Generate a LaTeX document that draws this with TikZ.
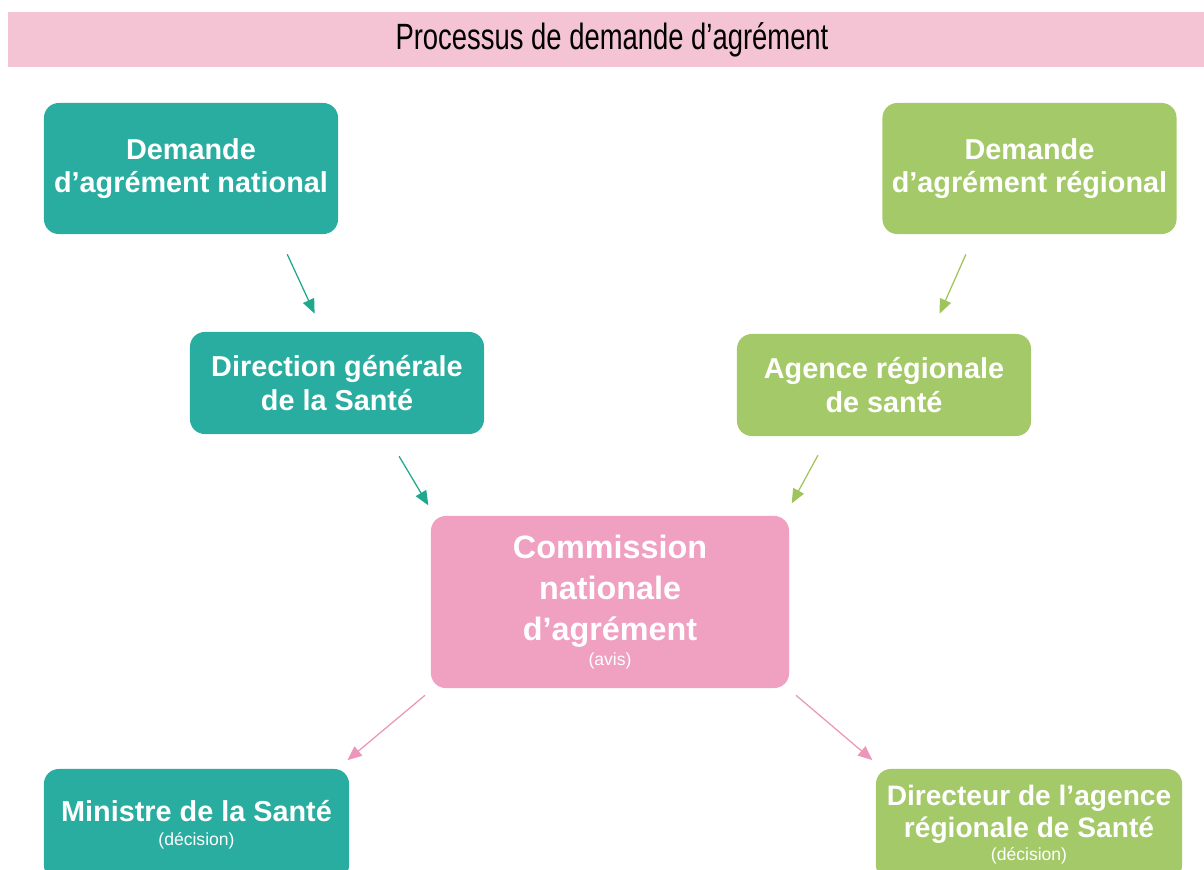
\documentclass[tikz,border=0pt]{standalone}
\usepackage{fontspec}
\setmainfont{Liberation Sans}
\newfontfamily\titlefont[FakeStretch=0.75]{Liberation Sans}
\definecolor{agr_teal}{RGB}{40, 173, 160}
\definecolor{agr_green}{RGB}{164, 201, 104}
\definecolor{agr_pink}{RGB}{240, 160, 193}
\definecolor{agr_band}{RGB}{245, 196, 212}
\definecolor{agr_tealarr}{RGB}{30, 168, 140}
\definecolor{agr_greenarr}{RGB}{160, 196, 92}
\definecolor{agr_pinkarr}{RGB}{236, 150, 186}
\newcommand{\sousligne}[1]{{\mdseries\fontsize{12.5}{14}\selectfont #1}}
\usepackage{tikz}
\usetikzlibrary{arrows.meta, positioning, calc}

\begin{document}
\begin{tikzpicture}[x=0.025cm, y=-0.025cm,
            blk/.style={rounded corners=0.37cm, align=center, text=white,
                        font=\bfseries\fontsize{20.5}{24}\selectfont,
                        minimum width=7.35cm, inner sep=0pt},
            arr/.style={-{Triangle[length=0.36cm, width=0.3cm]}, line width=0.9pt}]
            \useasboundingbox (0,0) rectangle (1204,869);
            % bandeau du titre
            \fill[agr_band] (8,12) rectangle (1204,67);
            \node (titre) at (612,40)
              {\titlefont\fontsize{26}{30}\selectfont Processus de demande d’agrément};
            % filiere nationale
            \node[blk, fill=agr_teal, minimum height=3.275cm] (dnat)
              at (191,168.5) {Demande\\d’agrément national};
            \node[blk, fill=agr_teal, minimum height=2.55cm] (dgs)
              at (337,383) {Direction générale\\de la Santé};
            % filiere regionale
            \node[blk, fill=agr_green, minimum height=3.275cm] (dreg)
              at (1029.5,168.5) {Demande\\d’agrément régional};
            \node[blk, fill=agr_green, minimum height=2.55cm] (ars)
              at (884,385) {Agence régionale\\de santé};
            % commission
            \node[blk, fill=agr_pink, minimum width=8.95cm, minimum height=4.3cm,
                  font=\bfseries\fontsize{23}{29}\selectfont] (cna)
              at (610,602) {Commission\\nationale\\d’agrément\\[-11pt]\sousligne{(avis)}};
            % decisions
            \node[blk, fill=agr_teal, minimum width=7.625cm, minimum height=2.775cm] (min)
              at (196.5,824.5) {Ministre de la Santé\\[-7pt]\sousligne{(décision)}};
            \node[blk, fill=agr_green, minimum width=7.65cm, minimum height=2.775cm,
                  font=\bfseries\fontsize{20}{23}\selectfont] (dir)
              at (1029,824.5) {Directeur de l’agence\\régionale de Santé\\[-7pt]\sousligne{(décision)}};
            % fleches
            \draw[arr, agr_tealarr, shorten <=0.55cm, shorten >=0.5cm]
              ($(dnat.south)+(87,0)$) -- ($(dgs.north)+(-14,0)$);
            \draw[arr, agr_tealarr, shorten <=0.64cm, shorten >=0.3cm]
              ($(dgs.south)+(49,0)$) -- ($(cna.north)+(-175.5,0)$);
            \draw[arr, agr_greenarr, shorten <=0.55cm, shorten >=0.55cm]
              ($(dreg.south)+(-54.7,0)$) -- ($(ars.north)+(46.7,0)$);
            \draw[arr, agr_greenarr, shorten <=0.54cm, shorten >=0.35cm]
              ($(ars.south)+(-55.7,0)$) -- ($(cna.north)+(175,0)$);
            \draw[arr, agr_pinkarr, shorten <=0.27cm, shorten >=0.33cm]
              ($(cna.south)+(-176.7,0)$) -- ($(min.north)+(140.8,0)$);
            \draw[arr, agr_pinkarr, shorten <=0.27cm, shorten >=0.33cm]
              ($(cna.south)+(177.8,0)$) -- ($(dir.north)+(-146.5,0)$);
          \end{tikzpicture}
\end{document}
